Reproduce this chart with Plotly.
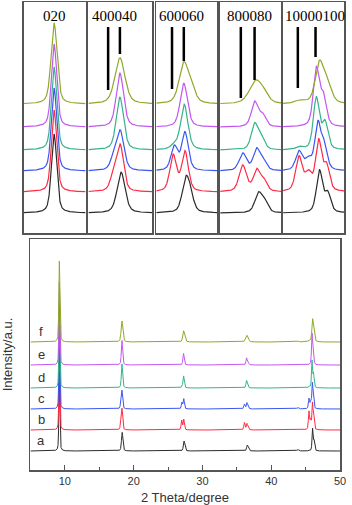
import numpy as np
import plotly.graph_objects as go

# samples, bottom to top
samples = ["a", "b", "c", "d", "e", "f"]
colors = ["#2b2b2b", "#ff2a45", "#3a55f0", "#35b38c", "#c356f0", "#8fa82a"]
offsets = [0, 21, 42, 63, 86, 109]

# diffraction peaks: (2theta, height, fwhm)
peaks_a = [(9.2, 79, 0.16), (18.33, 18.6, 0.24), (27.3, 8.4, 0.22), (27.42, 3.5, 0.2),
           (36.5, 5.3, 0.22), (36.66, 2.6, 0.2), (43.85, 1.5, 0.3), (46.0, 22, 0.18), (46.21, 10, 0.18)]
peaks_b = [(9.2, 82, 0.16), (18.15, 8, 0.2), (18.31, 20, 0.2), (26.98, 9.5, 0.2), (27.28, 10.5, 0.2),
           (36.1, 7.3, 0.22), (36.45, 5.8, 0.2), (36.63, 3, 0.2), (45.48, 18, 0.2), (45.72, 9, 0.2),
           (45.98, 26, 0.18), (46.18, 13, 0.18)]
peaks_c = [(9.2, 83, 0.16), (18.15, 5.5, 0.2), (18.31, 17.5, 0.22), (27.01, 6.3, 0.2), (27.28, 10, 0.2),
           (36.1, 4.8, 0.22), (36.45, 5.8, 0.2), (36.62, 2.5, 0.2), (43.85, 1.5, 0.3), (45.48, 10, 0.2),
           (45.72, 5.5, 0.2), (45.96, 24, 0.18), (46.12, 12, 0.18)]
peaks_d = [(9.2, 83, 0.16), (18.3, 24, 0.22), (27.0, 1, 0.2), (27.26, 12, 0.22), (36.4, 7, 0.2),
           (36.57, 3.2, 0.2), (45.48, 1.5, 0.2), (45.92, 27, 0.18), (46.14, 14, 0.18)]
peaks_e = [(9.2, 83, 0.16), (18.3, 24.5, 0.22), (27.25, 11.5, 0.22), (36.4, 6.8, 0.2), (36.6, 3.2, 0.2),
           (45.92, 30, 0.18), (46.1, 15, 0.18)]
peaks_f = [(9.2, 81, 0.18), (18.3, 21, 0.3), (27.25, 10.5, 0.28), (27.45, 3, 0.25), (36.42, 6, 0.38),
           (36.62, 2, 0.3), (43.85, 1, 0.3), (45.5, 1.5, 0.3), (46.0, 21, 0.25), (46.2, 9.5, 0.25)]
peak_lists = [peaks_a, peaks_b, peaks_c, peaks_d, peaks_e, peaks_f]

# insets
panel_labels = ["020", "400040", "600060", "800080", "10000100"]
panel_ranges = [[8.425, 10.0], [17.5, 19.125], [26.55, 28.1], [35.525, 37.075], [45.075, 46.625]]
panel_gain = [1.0, 2.2, 3.8, 3.6, 1.9]
ref_lines = [[], [18.0, 18.3], [26.95, 27.25], [36.05, 36.4], [45.45, 45.9]]
line_bottoms = [[], [123, 159], [124, 152], [115, 133], [125, 156]]
line_top = 186

W, H = 352, 505


def pv(x, x0, h, w, eta=0.45):
    d = (x - x0) / w
    return h * (eta / (1 + 4 * d ** 2) + (1 - eta) * np.exp(-4 * np.log(2) * d ** 2))


def pattern(x, plist):
    y = np.zeros_like(x)
    for x0, h, w in plist:
        y += pv(x, x0, h, w)
    return y


def xd(a, b):
    return [a / W, b / W]


def yd(top, bottom):
    return [1 - bottom / H, 1 - top / H]


fig = go.Figure()
tt = np.arange(5, 50.001, 0.01)

# main chart
for s, c, off, pl in zip(samples, colors, offsets, peak_lists):
    fig.add_trace(go.Scatter(x=tt, y=pattern(tt, pl) + off, mode="lines",
                             line=dict(color=c, width=1), xaxis="x", yaxis="y",
                             showlegend=False, hoverinfo="skip"))
    fig.add_annotation(x=6.6, y=off + 1, text=s, xref="x", yref="y", showarrow=False,
                       xanchor="center", yanchor="bottom", font=dict(size=13, color="#333"))

panel_px = [(24, 87), (90, 155), (159, 221), (224, 286), (288, 350)]
label_px = [55, 116.5, 185, 254, 320]

for i in range(5):
    n = i + 2
    xr = panel_ranges[i]
    xx = np.arange(xr[0], xr[1] + 0.001, 0.005)
    for c, off, pl in zip(colors, offsets, peak_lists):
        fig.add_trace(go.Scatter(x=xx, y=pattern(xx, pl) * panel_gain[i] + off, mode="lines",
                                 line=dict(color=c, width=1.2), xaxis="x%d" % n, yaxis="y%d" % n,
                                 showlegend=False, hoverinfo="skip"))
    for lx, lb in zip(ref_lines[i], line_bottoms[i]):
        fig.add_shape(type="line", x0=lx, x1=lx, y0=lb, y1=line_top, xref="x%d" % n, yref="y%d" % n,
                      line=dict(color="black", width=2.5))
    fig.add_annotation(x=label_px[i] / W, y=1 - 16 / H, xref="paper", yref="paper",
                       text=panel_labels[i], showarrow=False, xanchor="center", yanchor="middle",
                       font=dict(family="Liberation Serif", size=15, color="black"))
    box = dict(showline=True, linecolor="#555", linewidth=1.5, mirror=True,
               showgrid=False, zeroline=False, showticklabels=False, ticks="")
    fig.update_layout(**{
        "xaxis%d" % n: dict(domain=xd(*panel_px[i]), range=xr, anchor="y%d" % n, **box),
        "yaxis%d" % n: dict(domain=yd(2, 233), range=[-20, 211], anchor="x%d" % n, **box),
    })

fig.add_annotation(x=8 / W, y=(1 - 470 / H + 1 - 239 / H) / 2, xref="paper", yref="paper",
                   text="Intensity/a.u.", textangle=-90, showarrow=False,
                   xanchor="center", yanchor="middle", font=dict(size=13, color="#333"))
fig.add_annotation(x=188 / W, y=1 - 497 / H, xref="paper", yref="paper",
                   text="2 Theta/degree", showarrow=False, xanchor="center", yanchor="middle",
                   font=dict(size=13, color="#333"))

fig.update_layout(
    width=W, height=H, margin=dict(l=0, r=0, t=0, b=0),
    paper_bgcolor="white", plot_bgcolor="white",
    font=dict(family="Liberation Sans", color="#333"),
    xaxis=dict(domain=xd(31, 346), range=[5, 50], anchor="y", showline=True, linecolor="#555",
               linewidth=1.5, mirror=True, showgrid=False, zeroline=False,
               ticks="inside", tickvals=[10, 20, 30, 40, 50], ticklen=5, tickcolor="#555",
               tickfont=dict(size=11, color="#333"), ticklabeloverflow="allow",
               minor=dict(ticks="inside", tickvals=[15, 25, 35, 45], ticklen=3, tickcolor="#555")),
    yaxis=dict(domain=yd(239, 470), range=[-19, 212], anchor="x", showline=True, linecolor="#555",
               linewidth=1.5, mirror=True, showgrid=False, zeroline=False,
               showticklabels=False, ticks=""),
)

fig.write_html("out.html", config={"staticPlot": True},
               post_script="document.body.style.margin='0';document.body.style.overflow='hidden';")
